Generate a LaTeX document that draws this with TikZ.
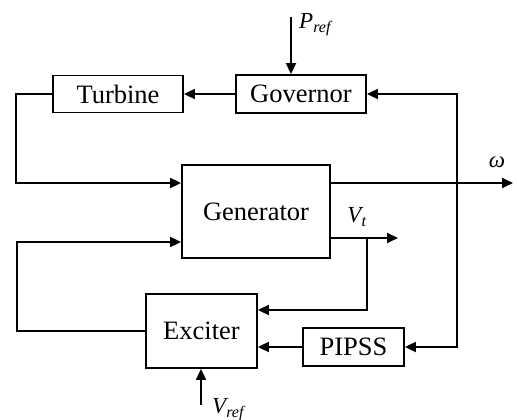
\documentclass[tikz,border=0pt]{standalone}
\usepackage{fontspec}
\setmainfont{Liberation Serif}
\usetikzlibrary{arrows.meta}
\begin{document}
\begin{tikzpicture}[x=1pt,y=-1pt,
  blk/.style={draw,line width=1.8pt,rectangle,inner sep=0pt,font=\fontsize{26.5}{30}\selectfont},
  wire/.style={line width=1.8pt},
  arr/.style={line width=1.8pt,-{Triangle[length=11pt,width=10pt]}},
  lbl/.style={font=\fontsize{23}{26}\selectfont\itshape,inner sep=0pt}]
\useasboundingbox (0,0) rectangle (517,420);
\node[blk,minimum width=130pt,minimum height=37pt] (turb) at (118,94) {Turbine};
\node[blk,minimum width=130pt,minimum height=38pt] (gov) at (301,94) {Governor};
\node[blk,minimum width=148pt,minimum height=93pt] (gen) at (256,211.5) {\raisebox{-3pt}{Generator}};
\node[blk,minimum width=111pt,minimum height=74pt] (exc) at (201.5,331) {Exciter};
\node[blk,minimum width=101pt,minimum height=38pt] (pip) at (353.5,347) {PIPSS};
\coordinate (pref) at (291,17);
\coordinate (om) at (513,183);
\coordinate (vt) at (398,238);
\coordinate (j1) at (457,183);
\coordinate (j2) at (367,238);
\coordinate (vref) at (201,405);
\node[lbl,anchor=west] (prefl) at (299,25) {P\textsubscript{ref}};
\node[lbl] (oml) at (497,162) {ω};
\node[lbl] (vtl) at (357,217) {V\textsubscript{t}};
\node[lbl,anchor=west] (vrefl) at (212,410) {V\textsubscript{ref}};
\draw[arr] (pref) -- (pref |- gov.north);
\draw[arr] (gov.west) -- (turb.east);
\draw[arr] (turb.west) -- ++(-36,0) |- (gen.west |- 0,183);
\draw[arr] (gen.east |- om) -- (om);
\draw[arr] (j1) |- (gov.east);
\draw[arr] (j1) |- (pip.east);
\draw[arr] (gen.east |- vt) -- (vt);
\draw[arr] (j2) |- (exc.east |- 0,310);
\draw[arr] (pip.west) -- (pip.west -| exc.east);
\draw[arr] (exc.west) -- ++(-128,0) |- (gen.west |- 0,242);
\draw[arr] (vref) -- (vref |- exc.south);
\end{tikzpicture}
\end{document}
